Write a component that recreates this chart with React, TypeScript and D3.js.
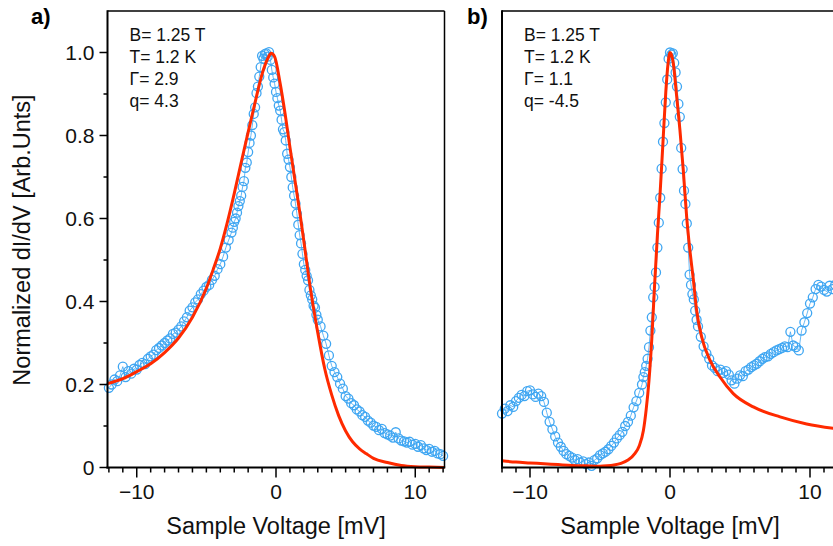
import React from 'react';
import * as d3 from 'd3';

const W = 833;
const H = 546;

const xMajorTicks = [-10, 0, 10];
const xMinorTicks = [-12, -11, -9, -8, -7, -6, -5, -4, -3, -2, -1, 1, 2, 3, 4, 5, 6, 7, 8, 9, 11, 12];
const yMajorTicks = [0, 0.2, 0.4, 0.6, 0.8, 1.0];
const yMinorTicks = [0.1, 0.3, 0.5, 0.7, 0.9];
const yTickLabels = ['0', '0.2', '0.4', '0.6', '0.8', '1.0'];

const legendA = ['B= 1.25 T', 'T= 1.2 K', 'Γ= 2.9', 'q= 4.3'];
const legendB = ['B= 1.25 T', 'T= 1.2 K', 'Γ= 1.1', 'q= -4.5'];

// measured dI/dV, panel a  [voltage mV, normalized dI/dV]
const dataA: [number, number][] = [
  [-12.0, 0.192], [-11.8, 0.2], [-11.6, 0.212], [-11.4, 0.208], [-11.2, 0.222], [-11.0, 0.243],
  [-10.8, 0.218], [-10.6, 0.232], [-10.4, 0.226], [-10.2, 0.238], [-10.0, 0.236], [-9.8, 0.247],
  [-9.6, 0.252], [-9.4, 0.249], [-9.2, 0.262], [-9.0, 0.268], [-8.8, 0.272], [-8.6, 0.283],
  [-8.4, 0.288], [-8.2, 0.294], [-8.0, 0.3], [-7.8, 0.306], [-7.6, 0.311], [-7.4, 0.322],
  [-7.2, 0.325], [-7.0, 0.332], [-6.8, 0.34], [-6.6, 0.352], [-6.4, 0.362], [-6.2, 0.378],
  [-6.0, 0.386], [-5.8, 0.398], [-5.6, 0.405], [-5.4, 0.418], [-5.2, 0.426], [-5.0, 0.435],
  [-4.8, 0.44], [-4.6, 0.452], [-4.4, 0.462], [-4.2, 0.478], [-4.0, 0.49], [-3.8, 0.508],
  [-3.6, 0.53], [-3.4, 0.548], [-3.2, 0.566], [-3.1, 0.578], [-3.0, 0.592], [-2.9, 0.6],
  [-2.8, 0.614], [-2.7, 0.63], [-2.6, 0.642], [-2.5, 0.655], [-2.4, 0.676], [-2.3, 0.69],
  [-2.2, 0.722], [-2.1, 0.735], [-2.0, 0.76], [-1.9, 0.782], [-1.8, 0.8], [-1.7, 0.825],
  [-1.6, 0.852], [-1.5, 0.868], [-1.4, 0.902], [-1.3, 0.918], [-1.2, 0.942], [-1.1, 0.965],
  [-1.0, 0.992], [-0.9, 0.985], [-0.8, 0.996], [-0.7, 0.998], [-0.6, 0.99], [-0.5, 1.001],
  [-0.4, 0.982], [-0.3, 0.958], [-0.2, 0.94], [-0.1, 0.925], [0.0, 0.905], [0.1, 0.89],
  [0.2, 0.872], [0.3, 0.86], [0.4, 0.838], [0.5, 0.815], [0.6, 0.808], [0.7, 0.788],
  [0.8, 0.756], [0.9, 0.742], [1.0, 0.724], [1.1, 0.7], [1.2, 0.675], [1.3, 0.655],
  [1.4, 0.636], [1.5, 0.612], [1.6, 0.585], [1.7, 0.56], [1.8, 0.54], [1.9, 0.515],
  [2.0, 0.49], [2.1, 0.476], [2.2, 0.462], [2.3, 0.451], [2.4, 0.428], [2.5, 0.415],
  [2.6, 0.405], [2.7, 0.39], [2.8, 0.385], [2.9, 0.368], [3.0, 0.356], [3.2, 0.34],
  [3.4, 0.318], [3.6, 0.298], [3.8, 0.27], [4.0, 0.245], [4.2, 0.23], [4.4, 0.218],
  [4.6, 0.202], [4.8, 0.19], [5.0, 0.172], [5.2, 0.166], [5.4, 0.155], [5.6, 0.15],
  [5.8, 0.14], [6.0, 0.135], [6.2, 0.126], [6.4, 0.122], [6.6, 0.113], [6.8, 0.108],
  [7.0, 0.101], [7.2, 0.098], [7.4, 0.09], [7.6, 0.093], [7.8, 0.083], [8.0, 0.08],
  [8.2, 0.077], [8.4, 0.072], [8.6, 0.085], [8.8, 0.07], [9.0, 0.065], [9.2, 0.063],
  [9.4, 0.06], [9.6, 0.062], [9.8, 0.055], [10.0, 0.057], [10.2, 0.05], [10.4, 0.054],
  [10.6, 0.046], [10.8, 0.042], [11.0, 0.045], [11.2, 0.038], [11.4, 0.04], [11.6, 0.034],
  [11.8, 0.032], [12.0, 0.028],
];

// Fano fit, panel a
const fitA: [number, number][] = [
  [-12.1, 0.202], [-11, 0.214], [-10, 0.231], [-9, 0.25], [-8, 0.277], [-7, 0.312], [-6, 0.362],
  [-5, 0.432], [-4.5, 0.478], [-4, 0.528], [-3.5, 0.59], [-3, 0.66], [-2.5, 0.735], [-2, 0.808],
  [-1.5, 0.88], [-1, 0.948], [-0.6, 0.985], [-0.35, 0.998], [-0.1, 0.99], [0.3, 0.925],
  [0.65, 0.853], [1, 0.772], [1.36, 0.692], [1.72, 0.612], [2.0, 0.545], [2.5, 0.425],
  [3.0, 0.325], [3.5, 0.238], [4.0, 0.175], [4.5, 0.125], [5.0, 0.088], [5.5, 0.062],
  [6.0, 0.045], [6.5, 0.033], [7, 0.022], [8, 0.012], [9, 0.005], [10, 0.002], [11, 0.001], [12.1, 0.0],
];

// measured dI/dV, panel b
const dataB: [number, number][] = [
  [-12.0, 0.13], [-11.8, 0.142], [-11.6, 0.136], [-11.4, 0.15], [-11.2, 0.146], [-11.0, 0.16],
  [-10.8, 0.168], [-10.6, 0.175], [-10.4, 0.172], [-10.2, 0.184], [-10.0, 0.186], [-9.8, 0.176],
  [-9.6, 0.17], [-9.4, 0.178], [-9.2, 0.172], [-9.0, 0.158], [-8.8, 0.132], [-8.6, 0.11],
  [-8.4, 0.092], [-8.2, 0.075], [-8.0, 0.06], [-7.8, 0.05], [-7.6, 0.04], [-7.4, 0.032],
  [-7.2, 0.028], [-7.0, 0.024], [-6.8, 0.018], [-6.6, 0.02], [-6.4, 0.012], [-6.2, 0.015],
  [-6.0, 0.008], [-5.8, 0.012], [-5.6, 0.004], [-5.4, 0.018], [-5.2, 0.022], [-5.0, 0.03],
  [-4.8, 0.034], [-4.6, 0.038], [-4.4, 0.044], [-4.2, 0.052], [-4.0, 0.06], [-3.8, 0.07],
  [-3.6, 0.078], [-3.4, 0.086], [-3.2, 0.1], [-3.0, 0.11], [-2.8, 0.125], [-2.6, 0.145],
  [-2.4, 0.16], [-2.2, 0.18], [-2.0, 0.2], [-1.9, 0.218], [-1.8, 0.23], [-1.7, 0.245],
  [-1.6, 0.262], [-1.5, 0.29], [-1.4, 0.33], [-1.3, 0.362], [-1.2, 0.41], [-1.1, 0.435],
  [-1.0, 0.47], [-0.9, 0.53], [-0.8, 0.59], [-0.7, 0.65], [-0.6, 0.72], [-0.5, 0.785],
  [-0.4, 0.83], [-0.3, 0.88], [-0.2, 0.935], [-0.1, 0.985], [0.0, 1.0], [0.1, 0.995],
  [0.2, 0.998], [0.3, 0.975], [0.4, 0.952], [0.5, 0.918], [0.6, 0.876], [0.7, 0.845],
  [0.8, 0.77], [0.9, 0.719], [1.0, 0.667], [1.1, 0.635], [1.2, 0.588], [1.3, 0.53],
  [1.4, 0.465], [1.5, 0.44], [1.6, 0.418], [1.7, 0.405], [1.8, 0.378], [1.9, 0.356],
  [2.0, 0.34], [2.2, 0.315], [2.4, 0.292], [2.6, 0.275], [2.8, 0.262], [3.0, 0.246],
  [3.2, 0.24], [3.4, 0.232], [3.6, 0.236], [3.8, 0.228], [4.0, 0.232], [4.2, 0.224],
  [4.4, 0.21], [4.6, 0.202], [4.8, 0.214], [5.0, 0.222], [5.2, 0.22], [5.4, 0.232],
  [5.6, 0.236], [5.8, 0.242], [6.0, 0.246], [6.2, 0.25], [6.4, 0.256], [6.6, 0.262],
  [6.8, 0.266], [7.0, 0.268], [7.2, 0.274], [7.4, 0.278], [7.6, 0.282], [7.8, 0.285],
  [8.0, 0.288], [8.2, 0.292], [8.4, 0.29], [8.6, 0.327], [8.8, 0.294], [9.0, 0.29],
  [9.2, 0.282], [9.4, 0.33], [9.6, 0.35], [9.8, 0.372], [10.0, 0.395], [10.2, 0.41],
  [10.4, 0.43], [10.6, 0.44], [10.8, 0.436], [11.0, 0.428], [11.2, 0.424], [11.4, 0.438],
  [11.6, 0.43], [11.8, 0.44], [12.0, 0.445],
];

// Fano fit, panel b
const fitB: [number, number][] = [
  [-12, 0.016], [-11, 0.013], [-10, 0.011], [-9, 0.009], [-8, 0.007], [-7, 0.005], [-6, 0.004],
  [-5, 0.003], [-4.5, 0.004], [-4, 0.006], [-3.5, 0.01], [-3, 0.018], [-2.5, 0.034], [-2.2, 0.052],
  [-1.9, 0.089], [-1.7, 0.14], [-1.5, 0.21], [-1.3, 0.31], [-1.1, 0.44], [-0.9, 0.56],
  [-0.7, 0.665], [-0.5, 0.785], [-0.3, 0.905], [-0.15, 0.97], [0, 1.0], [0.1, 0.995],
  [0.24, 0.973], [0.48, 0.893], [0.71, 0.813], [0.95, 0.716], [1.19, 0.604], [1.4, 0.53],
  [1.67, 0.452], [1.9, 0.379], [2.26, 0.315], [2.86, 0.258], [3.57, 0.218], [4.52, 0.178],
  [5.95, 0.146], [7.86, 0.122], [9.76, 0.105], [12, 0.093],
];

const FONT = '"Liberation Sans", Arial, Helvetica, sans-serif';
const BLUE = '#3fa6f2';
const RED = '#ff2a00';

const yScale = d3.scaleLinear().domain([0, 1.1]).range([467.5, 11]);

const fmt = (v: number) => (v < 0 ? '\u2212' + Math.abs(v) : String(v));

type PanelProps = {
  xDomain: [number, number];
  xRange: [number, number];
  data: [number, number][];
  fit: [number, number][];
  legend: string[];
  tag: string;
  tagX: number;
  yAxis: boolean;
};

function Panel({ xDomain, xRange, data, fit, legend, tag, tagX, yAxis }: PanelProps) {
  const x = d3.scaleLinear().domain(xDomain).range(xRange);
  const y = yScale;
  const x0 = xRange[0];
  const x1 = xRange[1];
  const yb = y(0);
  const yt = y(1.1);
  const line = d3
    .line<[number, number]>()
    .x((d) => x(d[0]))
    .y((d) => y(d[1]));
  const fitLine = d3
    .line<[number, number]>()
    .x((d) => x(d[0]))
    .y((d) => y(d[1]))
    .curve(d3.curveMonotoneX);
  const mid = x(0);
  return (
    <g>
      <path d={line(data) || ''} fill="none" stroke={BLUE} strokeWidth={0.8} />
      {data.map((d, i) => (
        <circle key={i} cx={x(d[0])} cy={y(d[1])} r={4.5} fill="none" stroke={BLUE} strokeWidth={1.3} />
      ))}
      <path d={fitLine(fit) || ''} fill="none" stroke={RED} strokeWidth={3} strokeLinejoin="round" />
      {/* frame */}
      <line x1={x0} x2={x1} y1={yt} y2={yt} stroke="#000" strokeWidth={1.5} />
      <line x1={x1} x2={x1} y1={yt} y2={yb} stroke="#000" strokeWidth={1.5} />
      <line x1={x0} x2={x0} y1={yt - 0.75} y2={yb + 1} stroke="#000" strokeWidth={2} />
      <line x1={x0 - 1} x2={x1 + 0.75} y1={yb} y2={yb} stroke="#000" strokeWidth={2} />
      {xMinorTicks.map((t) => (
        <line key={'xm' + t} x1={x(t)} x2={x(t)} y1={yb} y2={yb + 5} stroke="#000" strokeWidth={1.5} />
      ))}
      {xMajorTicks.map((t) => (
        <g key={'xM' + t}>
          <line x1={x(t)} x2={x(t)} y1={yb} y2={yb + 10} stroke="#000" strokeWidth={1.5} />
          <text x={x(t)} y={499} textAnchor="middle" fontSize={21} fontFamily={FONT} fill="#111">
            {fmt(t)}
          </text>
        </g>
      ))}
      {yAxis &&
        yMinorTicks.map((t) => (
          <line key={'ym' + t} x1={x0 - 4} x2={x0} y1={y(t)} y2={y(t)} stroke="#000" strokeWidth={1.5} />
        ))}
      {yAxis &&
        yMajorTicks.map((t, i) => (
          <g key={'yM' + t}>
            <line x1={x0 - 8} x2={x0} y1={y(t)} y2={y(t)} stroke="#000" strokeWidth={1.5} />
            <text x={x0 - 13} y={y(t) + 7.5} textAnchor="end" fontSize={21} fontFamily={FONT} fill="#111">
              {yTickLabels[i]}
            </text>
          </g>
        ))}
      <text x={mid} y={534} textAnchor="middle" fontSize={23.5} fontFamily={FONT} fill="#111">
        Sample Voltage [mV]
      </text>
      {legend.map((s, i) => (
        <text key={s} x={x0 + 22} y={41 + i * 22} fontSize={17.5} fontFamily={FONT} fill="#111">
          {s}
        </text>
      ))}
      <text x={tagX} y={24} fontSize={22} fontWeight="bold" fontFamily={FONT} fill="#000">
        {tag}
      </text>
    </g>
  );
}

export default function App() {
  return (
    <svg
      width={W}
      height={H}
      viewBox={`0 0 ${W} ${H}`}
      style={{ position: 'absolute', left: 0, top: 0, background: '#fff' }}
    >
      <rect width={W} height={H} fill="#fff" />
      <Panel
        xDomain={[-12.1, 12.1]}
        xRange={[107.5, 444.5]}
        data={dataA}
        fit={fitA}
        legend={legendA}
        tag="a)"
        tagX={31}
        yAxis={true}
      />
      <Panel
        xDomain={[-12, 12]}
        xRange={[502, 838]}
        data={dataB}
        fit={fitB}
        legend={legendB}
        tag="b)"
        tagX={467}
        yAxis={false}
      />
      <text
        transform="translate(30,240) rotate(-90)"
        textAnchor="middle"
        fontSize={23.5}
        fontFamily={FONT}
        fill="#111"
      >
        Normalized dI/dV [Arb.Unts]
      </text>
    </svg>
  );
}
